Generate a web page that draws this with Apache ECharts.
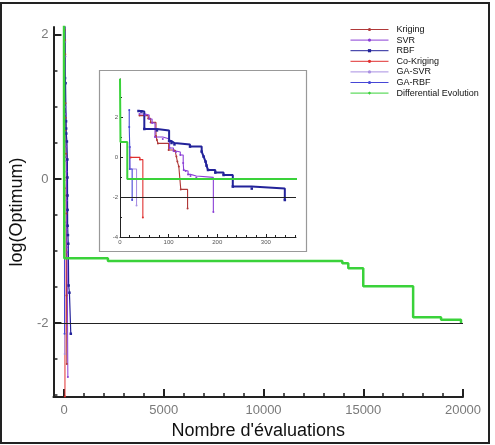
<!DOCTYPE html>
<html><head><meta charset="utf-8">
<script src="https://cdn.jsdelivr.net/npm/echarts@6/dist/echarts.min.js"></script>
<style>html,body{margin:0;padding:0;background:#fff}#c{width:495px;height:445px}</style>
</head><body><div id="c"></div>
<script>
const seriesNames = ['Kriging','SVR','RBF','Co-Kriging','GA-SVR','GA-RBF','Differential Evolution'];
const kriging = [[40,2.07],[58,1.93],[63,1.73],[74,1.05],[76,0.85],[78,0.68],[100,0.35],[113,0.3],[116,0.02],[118,-0.23],[121,-0.48],[125,-1.62],[139,-2.57]];
const svr = [[40,2.15],[52,2.1],[60,1.9],[66,1.7],[72,1.0],[88,0.9],[102,0.45],[110,0.3],[115,0.25],[124,0.1],[130,-0.3],[131,-0.65],[135,-0.7],[140,-0.87],[145,-0.95],[157,-1.02],[192,-2.75]];
const rbf = [[38,2.3],[44,2.27],[50,1.4],[76,1.33],[101,0.8],[106,0.7],[112,0.63],[144,0.52],[168,0.27],[172,0.02],[176,-0.23],[178,-0.43],[181,-0.65],[196,-0.78],[213,-0.9],[232,-1.48],[271,-1.58],[339,-2.15]];
const coKriging = [[22,-0.02],[41,-0.13],[47,-3.02]];
const gaSvr = [[20,0.5],[21,-0.6],[34,-2.43]];
const gaRbf = [[19,2.35],[19,1.5],[20,0.5],[20,-0.6],[25,-2.15]];
const diffEvolution = [[0,3.9],[1,0.75],[15,-1.1],[2200,-1.14],[13950,-1.17],[14250,-1.24],[15000,-1.49],[17500,-1.92],[18900,-1.955],[19900,-2.0]];
const targetLevel = -2;

const mainXTicks = [0,5000,10000,15000,20000];
const mainXMinor = [0,1000,2000,3000,4000,5000,6000,7000,8000,9000,10000,11000,12000,13000,14000,15000,16000,17000,18000,19000,20000];
const mainYTicks = [-2,0,2];
const mainYMinor = [-3,-2.5,-2,-1.5,-1,-0.5,0,0.5,1,1.5,2];
const insetXTicks = [0,100,200,300];
const insetXMinor = [0,20,40,60,80,100,120,140,160,180,200,220,240,260,280,300,320,340,360];
const insetYTicks = [-4,-2,0,2];
const insetYMinor = [-4,-3,-2,-1,0,1,2,3];

const colors = {
  'Kriging':'#b03838','SVR':'#8a3fd6','RBF':'#23239a','Co-Kriging':'#e03030',
  'GA-SVR':'#a990e2','GA-RBF':'#4646d6','Differential Evolution':'#3ad23a'
};
const datasets = {
  'Kriging':kriging,'SVR':svr,'RBF':rbf,'Co-Kriging':coKriging,
  'GA-SVR':gaSvr,'GA-RBF':gaRbf,'Differential Evolution':diffEvolution
};
const symbols = {
  'Kriging':'circle','SVR':'circle','RBF':'rect','Co-Kriging':'circle',
  'GA-SVR':'circle','GA-RBF':'circle','Differential Evolution':'diamond'
};

const font = 'Liberation Sans, Arial, sans-serif';
const plain = v => String(v);

function mkSeries(name, gi, inset) {
  const isDE = name === 'Differential Evolution';
  const lw = isDE ? (inset ? 2 : 2.5) : (name === 'RBF' ? (inset ? 2 : 1.2) : (inset ? 1.1 : 1));
  const s = {
    name: name, type: 'line', step: 'end',
    xAxisIndex: gi * 2, yAxisIndex: gi * 2,
    data: datasets[name],
    symbol: symbols[name], symbolSize: isDE ? 1.5 : (name === 'RBF' ? 2.5 : 2),
    showAllSymbol: true,
    lineStyle: { color: colors[name], width: lw },
    itemStyle: { color: colors[name], borderWidth: 0 },
    emphasis: { disabled: true },
    clip: true,
    z: isDE ? 3 : 2
  };
  if (isDE) {
    s.markLine = {
      silent: true, symbol: 'none', label: { show: false },
      lineStyle: { color: '#222', width: 1, type: 'solid' },
      emphasis: { disabled: true },
      data: [{ yAxis: targetLevel }]
    };
  }
  return s;
}

const series = [];
seriesNames.forEach(n => series.push(mkSeries(n, 0, false)));
seriesNames.forEach(n => series.push(mkSeries(n, 1, true)));

function majorX(gi, min, max, ticks, labelSize, labelColor, tickLen, lineW, name) {
  return {
    type: 'value', gridIndex: gi, position: 'bottom', min: min, max: max,
    axisLine: { onZero: false, lineStyle: { color: '#222', width: lineW } },
    axisTick: { inside: true, length: tickLen, customValues: ticks, lineStyle: { color: '#222', width: lineW } },
    axisLabel: { customValues: ticks, formatter: plain, fontSize: labelSize, color: labelColor, fontFamily: font, margin: gi === 0 ? 7 : 2 },
    splitLine: { show: false },
    name: name || '', nameLocation: 'middle', nameGap: 18,
    nameTextStyle: { fontSize: 18, color: '#111', fontFamily: font }
  };
}
function minorX(gi, min, max, ticks, tickLen, lineW) {
  return {
    type: 'value', gridIndex: gi, position: 'bottom', min: min, max: max,
    axisLine: { show: false, onZero: false },
    axisTick: { inside: true, length: tickLen, customValues: ticks, lineStyle: { color: '#222', width: lineW } },
    axisLabel: { show: false }, splitLine: { show: false }
  };
}
function majorY(gi, min, max, ticks, labelSize, labelColor, tickLen, lineW, name) {
  return {
    type: 'value', gridIndex: gi, position: 'left', min: min, max: max,
    axisLine: { onZero: false, lineStyle: { color: '#222', width: lineW } },
    axisTick: { inside: true, length: tickLen, customValues: ticks, lineStyle: { color: '#222', width: lineW } },
    axisLabel: { customValues: ticks, formatter: plain, fontSize: labelSize, color: labelColor, fontFamily: font, margin: gi === 0 ? 5 : 2 },
    splitLine: { show: false },
    name: name || '', nameLocation: 'middle', nameGap: 22,
    nameTextStyle: { fontSize: 18, color: '#111', fontFamily: font }
  };
}
function minorY(gi, min, max, ticks, tickLen, lineW) {
  return {
    type: 'value', gridIndex: gi, position: 'left', min: min, max: max,
    axisLine: { show: false, onZero: false },
    axisTick: { inside: true, length: tickLen, customValues: ticks, lineStyle: { color: '#222', width: lineW } },
    axisLabel: { show: false }, splitLine: { show: false }
  };
}

const option = {
  animation: false,
  textStyle: { fontFamily: font },
  graphic: [
    { type: 'rect', shape: { x: 1, y: 3, width: 488, height: 440 }, style: { fill: 'none', stroke: '#222', lineWidth: 2 }, silent: true },
    { type: 'rect', shape: { x: 99.5, y: 70.5, width: 207, height: 181 }, style: { fill: 'none', stroke: '#999', lineWidth: 1.2 }, silent: true }
  ],
  legend: {
    data: seriesNames, orient: 'vertical', left: 345, top: 20,
    itemWidth: 38, itemHeight: 4, itemGap: 1.6,
    lineStyle: { width: 1 },
    textStyle: { fontSize: 9, color: '#111', lineHeight: 9, fontFamily: font, padding: [0, 0, 0, 3] },
    selectedMode: false
  },
  grid: [
    { left: 48, right: 32, top: 27, bottom: 41, containLabel: false },
    { left: 120, right: 199, top: 79, bottom: 208, containLabel: false }
  ],
  xAxis: [
    majorX(0, -530, 20000, mainXTicks, 13, '#7a7a7a', 8, 2, "Nombre d'évaluations"),
    minorX(0, -530, 20000, mainXMinor, 4, 1.5),
    majorX(1, 0, 362, insetXTicks, 6, '#555', 3, 1),
    minorX(1, 0, 362, insetXMinor, 2, 1)
  ],
  yAxis: [
    majorY(0, -3.03, 2.11, mainYTicks, 13, '#7a7a7a', 8, 2, 'log(Optimum)'),
    minorY(0, -3.03, 2.11, mainYMinor, 4, 1.5),
    majorY(1, -4, 3.9, insetYTicks, 6, '#555', 3, 1),
    minorY(1, -4, 3.9, insetYMinor, 2, 1)
  ],
  series: series
};
const chart = echarts.init(document.getElementById('c'), null, { renderer: 'canvas' });
chart.setOption(option);
</script>
</body></html>
